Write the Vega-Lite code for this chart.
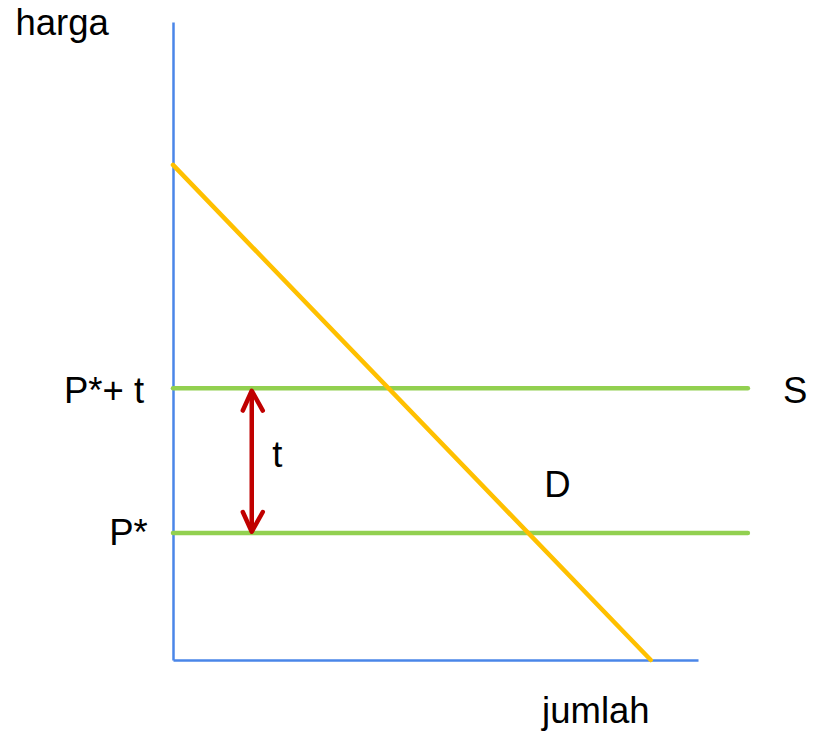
{
  "$schema": "https://vega.github.io/schema/vega-lite/v6.json",
  "autosize": {"type": "none"},
  "width": 525,
  "height": 638,
  "padding": {"left": 173, "top": 22, "right": 117, "bottom": 73},
  "background": "white",
  "config": {"view": {"stroke": null}},
  "datasets": {
    "lines": [
      {"series": "S_high", "q": 0, "p": 42.6, "o": 1},
      {"series": "S_high", "q": 109.5, "p": 42.6, "o": 2},
      {"series": "S_low", "q": 0, "p": 19.9, "o": 1},
      {"series": "S_low", "q": 109.5, "p": 19.9, "o": 2},
      {"series": "D", "q": 0, "p": 77.6, "o": 1},
      {"series": "D", "q": 91.0, "p": 0, "o": 2},
      {"series": "shaft", "q": 15.0, "p": 42.0, "o": 1},
      {"series": "shaft", "q": 15.0, "p": 20.3, "o": 2},
      {"series": "head_top", "q": 13.3, "p": 39.1, "o": 1},
      {"series": "head_top", "q": 15.0, "p": 42.2, "o": 2},
      {"series": "head_top", "q": 17.1, "p": 39.1, "o": 3},
      {"series": "head_bottom", "q": 13.3, "p": 23.2, "o": 1},
      {"series": "head_bottom", "q": 15.0, "p": 20.1, "o": 2},
      {"series": "head_bottom", "q": 17.1, "p": 23.2, "o": 3}
    ],
    "labels_left": [
      {"label": "harga", "q": -30.0, "p": 98.0},
      {"label": "jumlah", "q": 70.3, "p": -9.9},
      {"label": "S", "q": 116.2, "p": 40.3},
      {"label": "t", "q": 18.9, "p": 30.3},
      {"label": "D", "q": 70.7, "p": 25.5}
    ],
    "labels_right": [
      {"label": "P*+ t", "q": -5.5, "p": 40.3},
      {"label": "P*", "q": -4.8, "p": 18.0}
    ]
  },
  "layer": [
    {
      "data": {"name": "lines"},
      "mark": {"type": "line", "strokeWidth": 4.5, "strokeCap": "round", "strokeJoin": "round", "clip": false},
      "encoding": {
        "x": {"field": "q", "type": "quantitative", "scale": {"domain": [0, 100], "nice": false, "zero": false},
          "axis": {"title": null, "labels": false, "ticks": false, "grid": false, "domainColor": "#4A86E8", "domainWidth": 2.5}},
        "y": {"field": "p", "type": "quantitative", "scale": {"domain": [0, 100], "nice": false, "zero": false},
          "axis": {"title": null, "labels": false, "ticks": false, "grid": false, "domainColor": "#4A86E8", "domainWidth": 2.5}},
        "detail": {"field": "series"},
        "order": {"field": "o", "type": "quantitative"},
        "color": {
          "field": "series",
          "type": "nominal",
          "scale": {"domain": ["S_high", "S_low", "D", "shaft", "head_top", "head_bottom"],
                    "range": ["#92D050", "#92D050", "#FFC000", "#C00000", "#C00000", "#C00000"]},
          "legend": null
        }
      }
    },
    {
      "data": {"name": "labels_left"},
      "mark": {"type": "text", "align": "left", "baseline": "alphabetic", "font": "Liberation Sans", "fontSize": 36.5, "color": "black", "clip": false},
      "encoding": {
        "x": {"field": "q", "type": "quantitative"},
        "y": {"field": "p", "type": "quantitative"},
        "text": {"field": "label"}
      }
    },
    {
      "data": {"name": "labels_right"},
      "mark": {"type": "text", "align": "right", "baseline": "alphabetic", "font": "Liberation Sans", "fontSize": 36.5, "color": "black", "clip": false},
      "encoding": {
        "x": {"field": "q", "type": "quantitative"},
        "y": {"field": "p", "type": "quantitative"},
        "text": {"field": "label"}
      }
    }
  ]
}
